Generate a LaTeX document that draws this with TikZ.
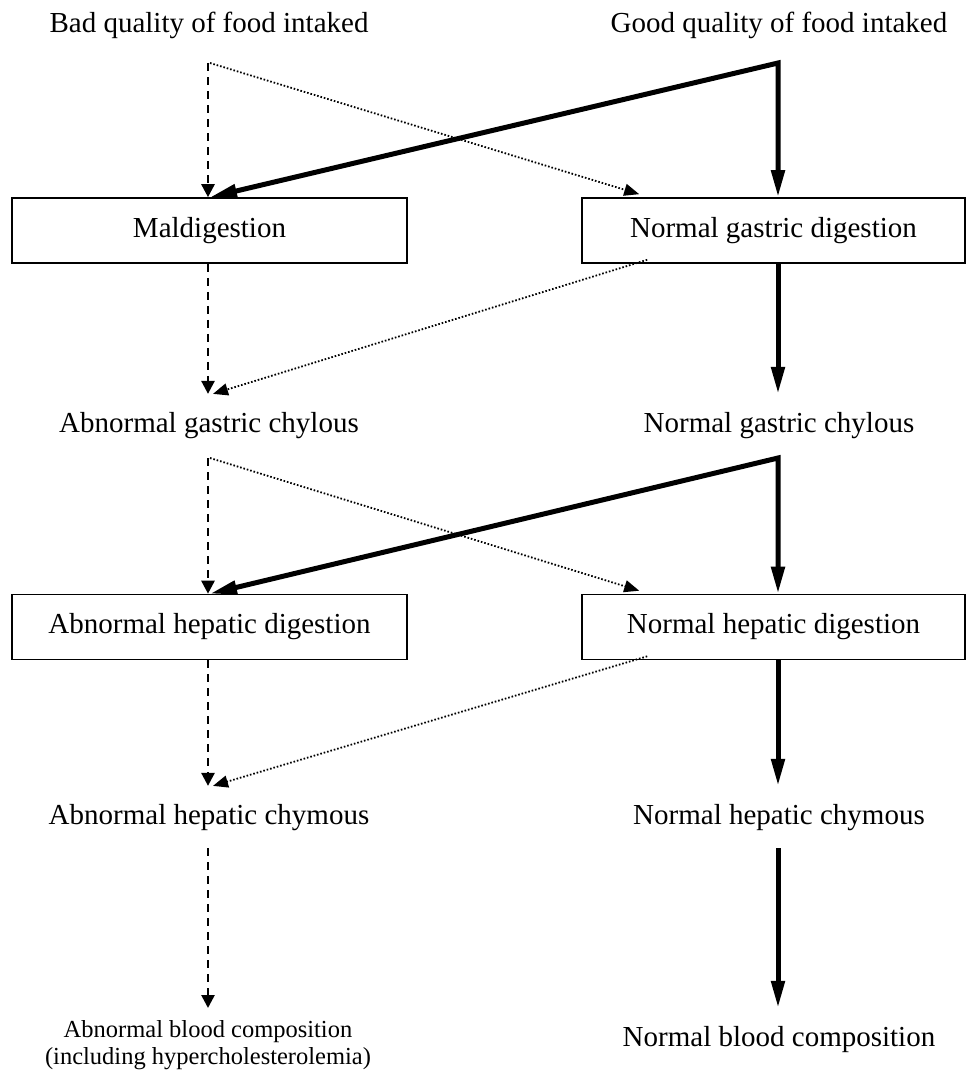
\documentclass[tikz,border=0pt]{standalone}
\usepackage{fontspec}
\setmainfont{Liberation Serif}
\usetikzlibrary{arrows.meta}
\tikzset{
  lbl/.style={font=\fontsize{29}{34}\selectfont,inner xsep=0pt,inner ysep=18pt,
              outer sep=0pt,anchor=base},
  smalllbl/.style={font=\fontsize{24.5}{27}\selectfont,inner sep=0pt,outer sep=0pt,
                   align=center,anchor=north},
  box/.style={draw,line width=1.6pt,minimum width=395pt,minimum height=65pt,
              inner sep=0pt,font=\fontsize{29}{34}\selectfont},
  goodtip/.tip={Triangle[length=27pt,width=13pt]},
  badarr/.style={line width=2.6pt,dash pattern=on 8pt off 6pt,
                 -{Triangle[length=13pt,width=13pt]}},
  goodarr/.style={line width=5pt,-goodtip},
  crossarr/.style={line width=1.8pt,dash pattern=on 1.6pt off 1.9pt,
                   -{Triangle[length=15pt,width=12pt]}},
}
\begin{document}
\begin{tikzpicture}[x=1pt,y=-1pt]
  \useasboundingbox (0,0) rectangle (966,1073);
  % sources
  \node[lbl] (badfood) at (209,33) {Bad quality of food intaked};
  \node[lbl] (goodfood) at (779,33) {Good quality of food intaked};
  \coordinate (lfork1) at (208,63);
  \coordinate (rfork1) at (778,63);
  % gastric stage
  \node[box] (maldig) at (209.5,230.5) {Maldigestion};
  \node[box,minimum width=383pt] (ngdig) at (773.5,230.5) {Normal gastric digestion};
  \node[lbl] (agchyl) at (209,432) {Abnormal gastric chylous};
  \node[lbl] (ngchyl) at (779,432) {Normal gastric chylous};
  \coordinate (lfork2) at (208,458);
  \coordinate (rfork2) at (778,458);
  % hepatic stage
  \node[box] (ahdig) at (209.5,627) {Abnormal hepatic digestion};
  \node[box,minimum width=383pt] (nhdig) at (773.5,627) {Normal hepatic digestion};
  \node[lbl] (ahchym) at (209,824) {Abnormal hepatic chymous};
  \node[lbl] (nhchym) at (779,824) {Normal hepatic chymous};
  % blood
  \node[smalllbl] (ablood) at (208,1020) {Abnormal blood composition\\(including hypercholesterolemia)};
  \node[lbl] (nblood) at (779,1046) {Normal blood composition};

  \draw[badarr] (lfork1) -- (lfork1 |- maldig.north);
  \draw[crossarr] ([xshift=2pt]lfork1) -- ([xshift=58pt,yshift=3pt]ngdig.north west);
  \draw[goodarr,arrows=goodtip-goodtip] ([xshift=2pt]lfork1 |- maldig.north) -- (rfork1) -- (rfork1 |- ngdig.north);
  \draw[badarr] (lfork1 |- maldig.south) -- (lfork1 |- agchyl.north);
  \draw[crossarr] ([xshift=66pt,yshift=4pt]ngdig.south west) -- ([xshift=5pt]lfork1 |- agchyl.north);
  \draw[goodarr] (rfork1 |- ngdig.south) -- (rfork1 |- ngchyl.north);

  \draw[badarr] (lfork2) -- (lfork2 |- ahdig.north);
  \draw[crossarr] ([xshift=2pt]lfork2) -- ([xshift=58pt,yshift=3pt]nhdig.north west);
  \draw[goodarr,arrows=goodtip-goodtip] ([xshift=2pt]lfork2 |- ahdig.north) -- (rfork2) -- (rfork2 |- nhdig.north);
  \draw[badarr] (lfork2 |- ahdig.south) -- (lfork2 |- ahchym.north);
  \draw[crossarr] ([xshift=66pt,yshift=4pt]nhdig.south west) -- ([xshift=5pt]lfork2 |- ahchym.north);
  \draw[goodarr] (rfork2 |- nhdig.south) -- (rfork2 |- nhchym.north);

  \draw[badarr,shorten >=12pt] (lfork2 |- ahchym.south) -- (ablood.north);
  \draw[goodarr] (rfork2 |- nhchym.south) -- (rfork2 |- nblood.north);
\end{tikzpicture}
\end{document}
